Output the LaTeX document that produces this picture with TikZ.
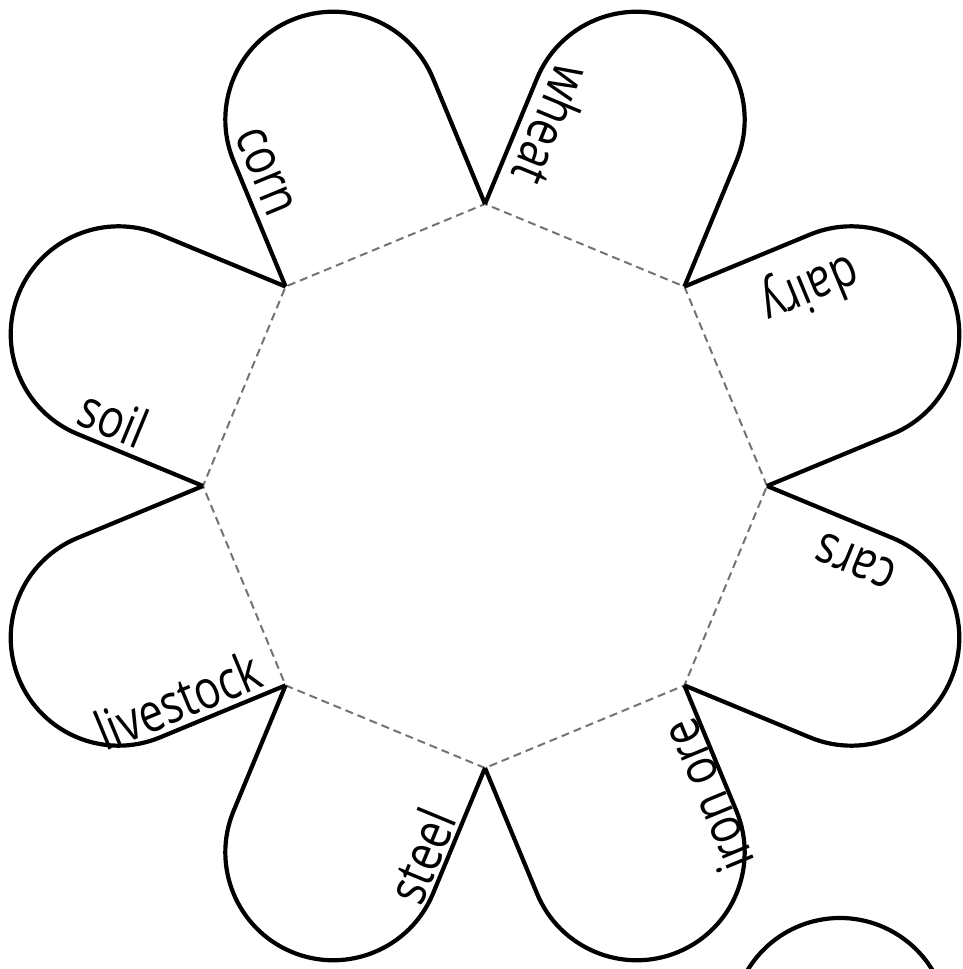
\documentclass[tikz,border=0pt]{standalone}
\usepackage{fontspec}
\newfontfamily\handfont[FakeStretch=0.8]{Open Sans}
\usetikzlibrary{calc}
\begin{document}
\begin{tikzpicture}[x=0.5pt,y=0.5pt,
  petal/.style={draw=black, line width=2.1pt, line join=round},
  octedge/.style={draw=black!55, line width=1pt, dash pattern=on 4pt off 2.5pt},
  lbl/.style={font=\handfont\fontsize{27}{29}\selectfont, inner sep=0pt}]
\useasboundingbox (0,0) rectangle (963,969);
\coordinate (O) at (485,483);
\foreach \i in {0,...,7} {
  \coordinate (v\i) at ($(O)+(\i*45:282)$);
}
% dashed octagon
\draw[octedge] (v0) -- (v1) -- (v2) -- (v3) -- (v4) -- (v5) -- (v6) -- (v7) -- cycle;
% petals
\foreach \i/\j in {0/1,1/2,2/3,3/4,4/5,5/6,6/7,7/0} {
  \pgfmathsetmacro{\th}{22.5+45*\i}
  \draw[petal] (v\i) -- ++(\th:136)
    arc[start angle=\th-90, end angle=\th+90, radius=107.92] -- (v\j);
}
% partial shape at bottom right
\begin{scope}
  \clip (0,0) rectangle (963,969);
  \coordinate (pc) at (840,-57);
  \draw[petal] (pc) ++(15:108) arc[start angle=15, end angle=165, radius=108];
\end{scope}
% labels
\node[lbl, rotate=-67.5] (corn) at (265,797) {corn};
\node[lbl, rotate=247.5] (wheat) at (553,844) {wheat};
\node[lbl, rotate=202.5] (dairy) at (809,682) {dairy};
\node[lbl, rotate=157.5] (cars) at (856,408) {cars};
\node[lbl, rotate=112.5] (ironore) at (707,173) {iron ore};
\node[lbl, rotate=67.5] (steel) at (421,113) {steel};
\node[lbl, rotate=22.5] (livestock) at (178,269) {livestock};
\node[lbl, rotate=-22.5] (soil) at (114,551) {soil};
\end{tikzpicture}
\end{document}
